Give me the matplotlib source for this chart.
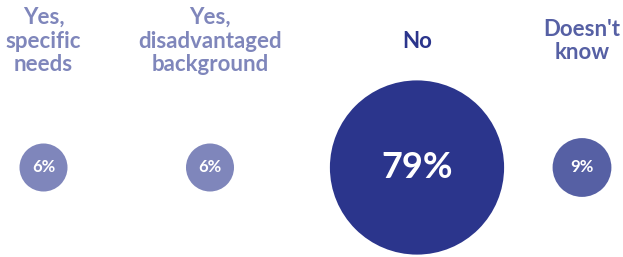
import math

import matplotlib

matplotlib.use("Agg")

import matplotlib.pyplot as plt
from matplotlib.patches import Circle

# data
categories = ["Yes,\nspecific\nneeds", "Yes,\ndisadvantaged\nbackground", "No", "Doesn't\nknow"]
values = [6, 6, 79, 9]
colors = ["#7f86bb", "#7f86bb", "#2b358c", "#5660a4"]

# layout (pixel units)
W, H = 623, 257
col_x = [43.5, 210, 417, 582]
circle_y = 167.5
label_y = 41
radius_scale = 9.8  # px per sqrt(percent)


def main() -> None:
    plt.rcParams["font.family"] = ["Lato", "DejaVu Sans"]

    fig = plt.figure(figsize=(W / 100, H / 100), dpi=100)
    ax = fig.add_axes([0, 0, 1, 1])
    ax.set_xlim(0, W)
    ax.set_ylim(H, 0)
    ax.set_aspect("equal")
    ax.axis("off")

    for x, cat, val, col in zip(col_x, categories, values, colors):
        r = radius_scale * math.sqrt(val)
        ax.add_patch(Circle((x, circle_y), r, facecolor=col, edgecolor="none"))
        fs = 26 if val > 50 else 12
        ax.text(x, circle_y, f"{val}%", ha="center", va="center",
                color="white", fontsize=fs, fontweight="bold")
        ax.text(x, label_y, cat, ha="center", va="center", color=col,
                fontsize=16, fontweight="bold", linespacing=1.15)

    fig.savefig("out.png", dpi=100)
    plt.close(fig)


if __name__ == "__main__":
    main()
